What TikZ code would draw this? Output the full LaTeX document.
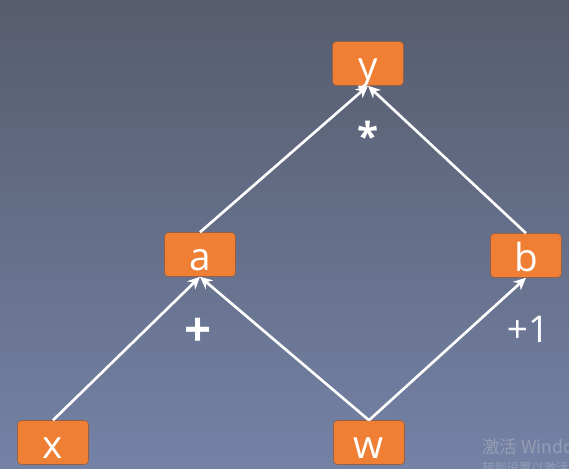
\documentclass[tikz,border=0pt]{standalone}
\usepackage{fontspec}
\setmainfont{Open Sans}
\newfontfamily\cjkfont{Noto Sans CJK SC}
\usetikzlibrary{arrows.meta}
\definecolor{bgtop}{RGB}{87,92,109}
\definecolor{bgbottom}{RGB}{116,130,166}
\definecolor{boxorange}{RGB}{238,127,52}
\definecolor{boxedge}{RGB}{150,95,70}
\definecolor{markgray}{RGB}{150,158,180}

\tikzset{
  opbox/.style={rectangle, rounded corners=2.2pt, fill=boxorange, draw=boxedge, line width=0.3pt,
    minimum width=1.42cm, minimum height=0.88cm, inner sep=0pt, text=white,
    text height=18pt, text depth=0pt, font=\fontsize{22}{22}\selectfont},
  flow/.style={white, line width=1.5pt, -{Stealth[length=7pt, width=6.5pt]}},
  oplabel/.style={text=white, font=\bfseries\fontsize{22}{22}\selectfont}
}

\begin{document}
\begin{tikzpicture}[x=0.02cm, y=-0.02cm]
    % Background
    \shade[top color=bgtop, bottom color=bgbottom] (0,0) rectangle (569,468);
    \useasboundingbox (0,0) rectangle (569,468);
    \clip (0,0) rectangle (569,468);

    % Nodes
    \node[opbox] (y) at (368,63.5) {y};
    \node[opbox] (a) at (200,254.5) {a};
    \node[opbox] (b) at (526,255.5) {b};
    \node[opbox] (x) at (53,442.5) {x};
    \node[opbox] (w) at (369,442.5) {w};

    % Edges
    \draw[flow] (a.north) -- (y.south);
    \draw[flow] (b.north) -- (y.south);
    \draw[flow] (x.north) -- (a.south);
    \draw[flow] (w.north) -- (a.south);
    \draw[flow] (w.north) -- (b.south);

    % Operation labels
    \node[oplabel] (times) at (368,136) {*};
    \node[oplabel, font=\bfseries\fontsize{27}{27}\selectfont] (plus) at (198,332) {+};
    \node[oplabel, font=\fontsize{21}{21}\selectfont] (plusone) at (528,329) {+1};

    % Watermark
    \node[anchor=base west, text=markgray, font=\cjkfont\fontsize{10}{10}\selectfont, inner sep=0pt] (mark) at (482,453) {激活 Windows};
    \node[anchor=base west, text=markgray, font=\cjkfont\fontsize{7}{7}\selectfont, inner sep=0pt] (markline) at (482,472) {转到设置以激活 Windows。};
\end{tikzpicture}
\end{document}
